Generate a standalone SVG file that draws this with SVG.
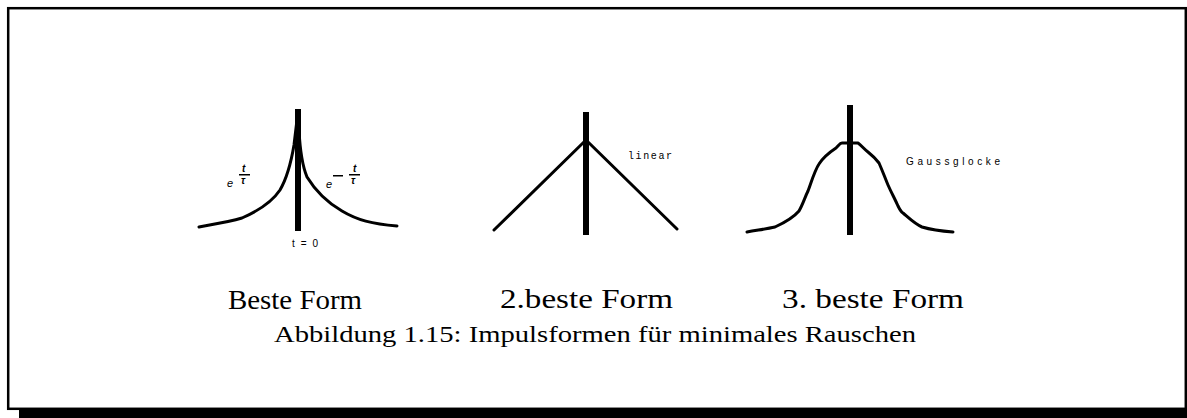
<svg xmlns="http://www.w3.org/2000/svg" width="1187" height="418" viewBox="0 0 1187 418">
<style>
.bar{fill:#000}
.crv{fill:none;stroke:#000;stroke-width:3;stroke-linejoin:round;stroke-linecap:round}
.big{font-family:"Liberation Serif",serif;font-size:27px;fill:#000}
.cap{font-family:"Liberation Serif",serif;font-size:24px;fill:#000}
.sm{font-family:"Liberation Sans",sans-serif;font-size:10px;fill:#000}
.it{font-family:"Liberation Sans",sans-serif;font-style:italic;font-size:11px;fill:#000}
.tiny{font-family:"Liberation Sans",sans-serif;font-style:italic;font-weight:bold;font-size:10px;fill:#000}
</style>
<rect x="0" y="0" width="1187" height="418" fill="#fff"/>
<rect x="19" y="409" width="1168" height="9" fill="#000"/>
<rect x="8.2" y="8.2" width="1177.6" height="400.6" fill="#fff" stroke="#000" stroke-width="2.5"/>

<g id="shape1">
<path class="crv" d="M199,227 C215,224 228,222 242,218 C258,211 272,202 280,190 C287,178 291,163 294,145 L297,120"/>
<path class="crv" d="M299,130 C300,150 302,165 307,177 C315,190 328,203 342,211 C357,220 372,224 397,226"/>
<rect class="bar" x="295" y="109" width="6" height="122"/>
<text class="it" x="227" y="187">e</text>
<text class="tiny" x="242" y="172">t</text>
<rect x="239" y="174" width="11" height="1.5" fill="#000"/>
<text class="tiny" x="241" y="184">τ</text>
<text class="it" x="326" y="188">e</text>
<rect x="333" y="175" width="10" height="1.5" fill="#000"/>
<text class="tiny" x="353" y="172">t</text>
<rect x="349" y="174" width="11" height="1.5" fill="#000"/>
<text class="tiny" x="351" y="184">τ</text>
<text class="sm" x="292" y="247" textLength="26" lengthAdjust="spacing">t=0</text>
</g>

<g id="shape2">
<path class="crv" d="M494,230 L586,140 L677,229"/>
<rect class="bar" x="583" y="112" width="6" height="123"/>
<text x="628" y="159" font-family="Liberation Mono, monospace" font-size="10px" textLength="44" lengthAdjust="spacing">linear</text>
</g>

<g id="shape3">
<path class="crv" d="M747,232 C758,230 766,229 775,227 C786,222 793,218 799,211 C803,204 805,197 808,191 C812,180 815,170 819,164 C824,156 830,152 836,148 C839,145 840,143 842,143 L858,143 C862,146 864,149 868,152 C873,156 876,159 879,163 C883,172 885,178 888,185 C892,194 895,199 898,206 C900,210 901,212 903,213 C910,219 915,224 922,227 C932,230 940,231 953,232"/>
<rect class="bar" x="847" y="105" width="6" height="130"/>
<text class="sm" x="906" y="165" font-size="11px" textLength="94" lengthAdjust="spacing">Gaussglocke</text>
</g>

<g id="labels">
<text class="big" x="228" y="309" textLength="134" lengthAdjust="spacingAndGlyphs">Beste Form</text>
<text class="big" x="500" y="308" textLength="173" lengthAdjust="spacingAndGlyphs">2.beste Form</text>
<text class="big" x="782" y="308" textLength="182" lengthAdjust="spacingAndGlyphs">3. beste Form</text>
<text class="cap" x="274" y="342" textLength="642" lengthAdjust="spacingAndGlyphs">Abbildung 1.15: Impulsformen für minimales Rauschen</text>
</g>
<g id="connectors"/>
</svg>
